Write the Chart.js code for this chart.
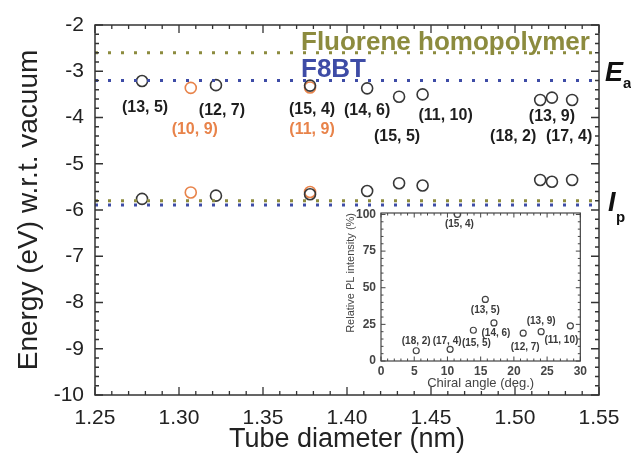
<!DOCTYPE html>
<html lang="en">
<head>
    <meta charset="UTF-8">
    <title>Energy levels vs tube diameter</title>
    <style>
        body { margin: 0; background: #fff; }
        #wrap { position: relative; width: 631px; height: 458px; }
        #mainChart { position: absolute; left: 0; top: 0; }
        #insetChart { position: absolute; left: 330px; top: 200px; }
    </style>
    <script src="https://cdn.jsdelivr.net/npm/chart.js"></script>
</head>
<body>
<div id="wrap">
    <canvas id="mainChart" width="631" height="458"></canvas>
    <canvas id="insetChart" width="260" height="193"></canvas>
</div>
<script>
    // main plot data
    const blackTubes = ['(13, 5)', '(12, 7)', '(15, 4)', '(14, 6)', '(15, 5)', '(11, 10)', '(18, 2)', '(13, 9)', '(17, 4)'];
    const blackDiameter = [1.278, 1.322, 1.378, 1.412, 1.431, 1.445, 1.515, 1.522, 1.534];
    const blackEa = [-3.21, -3.30, -3.31, -3.37, -3.55, -3.50, -3.62, -3.57, -3.62];
    const blackIp = [-5.76, -5.69, -5.66, -5.59, -5.42, -5.47, -5.35, -5.39, -5.35];

    const orangeTubes = ['(10, 9)', '(11, 9)'];
    const orangeDiameter = [1.307, 1.378];
    const orangeEa = [-3.36, -3.35];
    const orangeIp = [-5.62, -5.61];

    const polymerNames = ['Fluorene homopolymer', 'F8BT'];
    const polymerEa = [-2.60, -3.20];
    const polymerIp = [-5.80, -5.89];

    const diameterTicks = [1.25, 1.30, 1.35, 1.40, 1.45, 1.50, 1.55];
    const energyTicks = [-10, -9, -8, -7, -6, -5, -4, -3, -2];

    // inset data
    const insetTubes = ['(15, 4)', '(13, 5)', '(14, 6)', '(15, 5)', '(12, 7)', '(13, 9)', '(11, 10)', '(18, 2)', '(17, 4)'];
    const chiralAngle = [11.5, 15.7, 17.0, 13.9, 21.4, 24.1, 28.5, 5.3, 10.4];
    const plIntensity = [100, 42, 26, 21, 19, 20, 24, 7, 8];
    const angleTicks = [0, 5, 10, 15, 20, 25, 30];
    const intensityTicks = [0, 25, 50, 75, 100];

    // label placement, pixels from the circle centre
    const blackOffsets = [[3, 27], [6, 25], [2, 24], [0, 22], [-2, 40], [23, 21], [-27, 37], [0, 19], [-3, 37]];
    const orangeOffsets = [[4, 42], [2, 42]];
    const insetOffsets = [[2, 10], [0, 11], [2, 10], [3, 13], [2, 14], [0, -10], [-9, 14], [0, -9], [-3, -8]];

    const FONT = "Arial, 'Liberation Sans', sans-serif";
    const OLIVE = '#8c8b3e';
    const BLUE = '#3e4ca6';
    const ORANGE = '#e8834a';
    const INK = '#383838';

    Chart.defaults.font.family = FONT;
    Chart.defaults.animation = false;

    const pts = (xs, ys) => xs.map((x, i) => ({ x: x, y: ys[i] }));
    const level = (v) => [{ x: diameterTicks[0], y: v }, { x: diameterTicks[diameterTicks.length - 1], y: v }];

    // frame with inward ticks on all four sides
    const frameTicks = {
        id: 'frameTicks',
        afterDatasetsDraw(chart, args, o) {
            const { ctx, chartArea: a, scales: { x, y } } = chart;
            ctx.save();
            ctx.strokeStyle = o.color;
            ctx.lineWidth = o.width;
            ctx.strokeRect(a.left, a.top, a.right - a.left, a.bottom - a.top);
            ctx.lineWidth = o.tickWidth;
            ctx.beginPath();
            const nx = Math.floor((x.max - x.min) / o.xStep + 1e-6);
            for (let i = 0; i <= nx; i++) {
                const px = x.getPixelForValue(x.min + i * o.xStep);
                const len = i % o.xEvery === 0 ? o.major : o.minor;
                ctx.moveTo(px, a.bottom); ctx.lineTo(px, a.bottom - len);
                ctx.moveTo(px, a.top); ctx.lineTo(px, a.top + len);
            }
            const ny = Math.floor((y.max - y.min) / o.yStep + 1e-6);
            for (let i = 0; i <= ny; i++) {
                const py = y.getPixelForValue(y.min + i * o.yStep);
                const len = i % o.yEvery === 0 ? o.major : o.minor;
                ctx.moveTo(a.left, py); ctx.lineTo(a.left + len, py);
                ctx.moveTo(a.right, py); ctx.lineTo(a.right - len, py);
            }
            ctx.stroke();
            ctx.restore();
        }
    };

    // (n, m) labels next to the circles
    const tubeLabels = {
        id: 'tubeLabels',
        afterDatasetsDraw(chart, args, o) {
            const ctx = chart.ctx;
            ctx.save();
            ctx.font = o.font;
            ctx.textAlign = 'center';
            ctx.textBaseline = 'middle';
            chart.data.datasets.forEach((ds, di) => {
                if (!ds.tubeNames) return;
                const meta = chart.getDatasetMeta(di);
                ctx.fillStyle = ds.nameColor;
                ds.tubeNames.forEach((name, i) => {
                    const p = meta.data[i];
                    ctx.fillText(name, p.x + ds.nameOffsets[i][0], p.y + ds.nameOffsets[i][1]);
                });
            });
            ctx.restore();
        }
    };

    // polymer names and E_a / I_p marks
    const levelText = {
        id: 'levelText',
        afterDraw(chart) {
            const { ctx, chartArea: a, scales: { y } } = chart;
            ctx.save();
            ctx.textBaseline = 'middle';
            ctx.font = 'bold 26px ' + FONT;
            ctx.fillStyle = OLIVE;
            ctx.fillText(polymerNames[0], 301, y.getPixelForValue(polymerEa[0]) - 10);
            ctx.fillStyle = BLUE;
            ctx.fillText(polymerNames[1], 301, y.getPixelForValue(polymerEa[1]) - 11);

            ctx.fillStyle = '#111';
            ctx.font = 'italic bold 27px ' + FONT;
            ctx.fillText('E', a.right + 6, y.getPixelForValue(-3.05));
            ctx.fillText('I', a.right + 9, y.getPixelForValue(-5.85));
            ctx.font = 'bold 15px ' + FONT;
            ctx.fillText('a', a.right + 24, y.getPixelForValue(-3.05) + 10);
            ctx.fillText('p', a.right + 17, y.getPixelForValue(-5.85) + 15);
            ctx.restore();
        }
    };

    const circles = (data, color, r, w) => ({
        type: 'scatter', data: data, pointStyle: 'circle', pointRadius: r,
        borderColor: color, borderWidth: w, backgroundColor: 'rgba(0,0,0,0)'
    });
    const dotted = (v, color) => ({
        type: 'line', data: level(v), borderColor: color, borderWidth: 3,
        borderDash: [3, 10], pointRadius: 0, fill: false
    });

    new Chart(document.getElementById('mainChart'), {
        type: 'scatter',
        data: {
            datasets: [
                dotted(polymerEa[0], OLIVE),
                dotted(polymerEa[1], BLUE),
                dotted(polymerIp[0], OLIVE),
                dotted(polymerIp[1], BLUE),
                Object.assign(circles(pts(blackDiameter, blackEa), INK, 5.5, 1.6),
                    { tubeNames: blackTubes, nameOffsets: blackOffsets, nameColor: '#1e1e1e' }),
                circles(pts(blackDiameter, blackIp), INK, 5.5, 1.6),
                Object.assign(circles(pts(orangeDiameter, orangeEa), ORANGE, 5.5, 1.6),
                    { tubeNames: orangeTubes, nameOffsets: orangeOffsets, nameColor: ORANGE }),
                circles(pts(orangeDiameter, orangeIp), ORANGE, 5.5, 1.6)
            ]
        },
        options: {
            responsive: false,
            layout: { padding: { top: 25, right: 32, left: 0, bottom: 0 } },
            plugins: {
                legend: { display: false },
                tooltip: { enabled: false },
                frameTicks: { color: '#333', width: 1.5, tickWidth: 1.3, xStep: 0.01, xEvery: 5, yStep: 0.2, yEvery: 5, minor: 4, major: 8 },
                tubeLabels: { font: 'bold 16px ' + FONT }
            },
            scales: {
                x: {
                    type: 'linear', min: 1.25, max: 1.55,
                    afterFit(s) { s.height = 63; },
                    afterBuildTicks(s) { s.ticks = diameterTicks.map(v => ({ value: v })); },
                    grid: { display: false, drawTicks: false },
                    border: { display: false },
                    ticks: { padding: 11, color: '#222', font: { size: 21 }, callback: v => v.toFixed(2) },
                    title: { display: true, text: 'Tube diameter (nm)', color: '#222', font: { size: 27 }, padding: { top: 0, bottom: 2 } }
                },
                y: {
                    type: 'linear', min: -10, max: -2,
                    afterFit(s) { s.width = 95; },
                    afterBuildTicks(s) { s.ticks = energyTicks.map(v => ({ value: v })); },
                    grid: { display: false, drawTicks: false },
                    border: { display: false },
                    ticks: { padding: 11, color: '#222', font: { size: 21 } },
                    title: { display: true, text: 'Energy (eV) w.r.t. vacuum', color: '#222', font: { size: 28 }, padding: { top: 12, bottom: 0 } }
                }
            }
        },
        plugins: [frameTicks, tubeLabels, levelText]
    });

    new Chart(document.getElementById('insetChart'), {
        type: 'scatter',
        data: {
            datasets: [
                Object.assign(circles(pts(chiralAngle, plIntensity), '#444', 3, 1.2),
                    { tubeNames: insetTubes, nameOffsets: insetOffsets, nameColor: '#3a3a3a' })
            ]
        },
        options: {
            responsive: false,
            layout: { padding: { top: 13, right: 6, left: 0, bottom: 0 } },
            plugins: {
                legend: { display: false },
                tooltip: { enabled: false },
                frameTicks: { color: '#444', width: 1.2, tickWidth: 1, xStep: 1, xEvery: 5, yStep: 5, yEvery: 5, minor: 2.5, major: 4.5 },
                tubeLabels: { font: 'bold 10px ' + FONT }
            },
            scales: {
                x: {
                    type: 'linear', min: 0, max: 30,
                    afterFit(s) { s.height = 32; },
                    afterBuildTicks(s) { s.ticks = angleTicks.map(v => ({ value: v })); },
                    grid: { display: false, drawTicks: false },
                    border: { display: false },
                    ticks: { padding: 3, color: '#444', font: { size: 12, weight: 'bold' } },
                    title: { display: true, text: 'Chiral angle (deg.)', color: '#444', font: { size: 13 }, padding: { top: 0, bottom: 2 } }
                },
                y: {
                    type: 'linear', min: 0, max: 101,
                    afterFit(s) { s.width = 51; },
                    afterBuildTicks(s) { s.ticks = intensityTicks.map(v => ({ value: v })); },
                    grid: { display: false, drawTicks: false },
                    border: { display: false },
                    ticks: { padding: 5, color: '#444', font: { size: 12, weight: 'bold' } },
                    title: { display: true, text: 'Relative PL intensity (%)', color: '#444', align: 'end', font: { size: 11 }, padding: { top: 14, bottom: 0 } }
                }
            }
        },
        plugins: [frameTicks, tubeLabels]
    });
</script>
</body>
</html>
